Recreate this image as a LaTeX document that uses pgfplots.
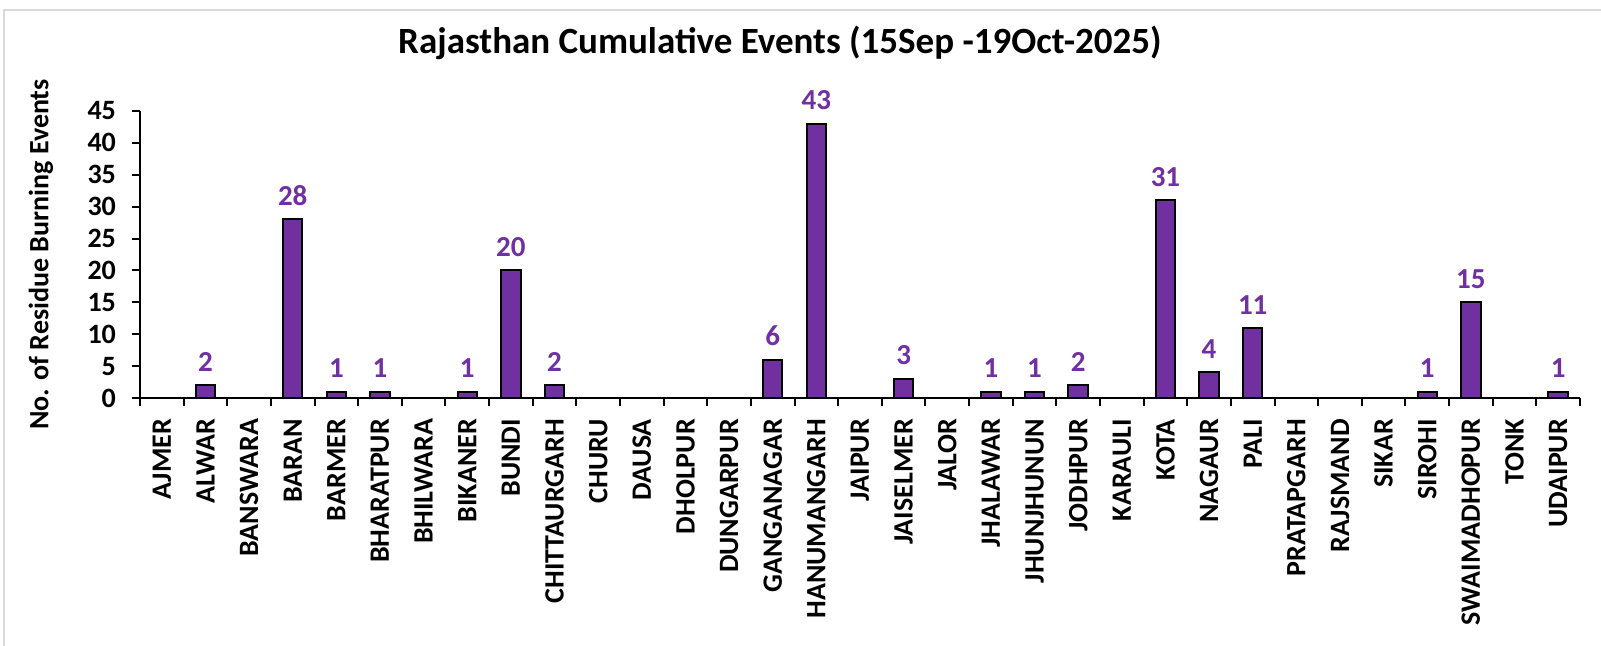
\documentclass[border=0pt]{standalone}
\usepackage{pgfplots}
\pgfplotsset{compat=1.18}
\usepackage{fontspec}
\setmainfont{Carlito}
\definecolor{barpurple}{HTML}{7030A0}
\begin{document}
\begin{tikzpicture}
\useasboundingbox (-70pt,-124pt) rectangle (730.5pt,199pt);
\fill[white] (-70pt,-124pt) rectangle (730.5pt,199pt);
\draw[black!15, line width=1pt] (-68pt,-124pt) -- (-68pt,194pt) -- (730.5pt,194pt);
\begin{axis}[
  at={(0,0)}, anchor=south west,
  scale only axis, width=720pt, height=143.5pt,
  ybar, bar width=9.75pt,
  xmin=-0.5, xmax=32.5, ymin=0, ymax=45,
  enlargelimits=false,
  axis x line*=bottom, axis y line*=left,
  axis line style={-, line width=1pt, black},
  ytick={0,5,...,45},
  xtick={0,...,32},
  xticklabels={AJMER,ALWAR,BANSWARA,BARAN,BARMER,BHARATPUR,BHILWARA,BIKANER,BUNDI,CHITTAURGARH,CHURU,DAUSA,DHOLPUR,DUNGARPUR,GANGANAGAR,HANUMANGARH,JAIPUR,JAISELMER,JALOR,JHALAWAR,JHUNJHUNUN,JODHPUR,KARAULI,KOTA,NAGAUR,PALI,PRATAPGARH,RAJSMAND,SIKAR,SIROHI,SWAIMADHOPUR,TONK,UDAIPUR},
  minor xtick={-0.5,0.5,...,32.5},
  major x tick style={draw=none},
  tick align=outside,
  major tick length=4pt, minor tick length=4pt,
  tick style={line width=1pt, black},
  /pgf/number format/assume math mode=true,
  tick label style={font=\fontsize{14}{16}\selectfont\bfseries},
  x tick label style={rotate=90, anchor=east, xshift=-3pt},
  y tick label style={xshift=-4.5pt},
  ylabel={No. of Residue Burning Events},
  ylabel style={at={(axis description cs:-0.0688,0.5)}, anchor=center, font=\fontsize{14}{16}\selectfont\bfseries},
  title={Rajasthan Cumulative Events (15Sep -19Oct-2025)},
  title style={at={(axis description cs:0.4444,1.195)}, anchor=center, font=\fontsize{18.5}{21}\selectfont\bfseries},
  nodes near coords={\pgfmathfloatifflags{\pgfplotspointmeta}{0}{}{\pgfmathprintnumber{\pgfplotspointmeta}}},
  nodes near coords style={font=\fontsize{14.5}{16}\selectfont\bfseries, text=barpurple, anchor=south, yshift=3pt},
]
\addplot[fill=barpurple, draw=black, line width=1pt] coordinates {
(0,0) (1,2) (2,0) (3,28) (4,1) (5,1) (6,0) (7,1) (8,20) (9,2)
(10,0) (11,0) (12,0) (13,0) (14,6) (15,43) (16,0) (17,3) (18,0) (19,1)
(20,1) (21,2) (22,0) (23,31) (24,4) (25,11) (26,0) (27,0) (28,0) (29,1)
(30,15) (31,0) (32,1)
};
\end{axis}
\end{tikzpicture}
\end{document}
